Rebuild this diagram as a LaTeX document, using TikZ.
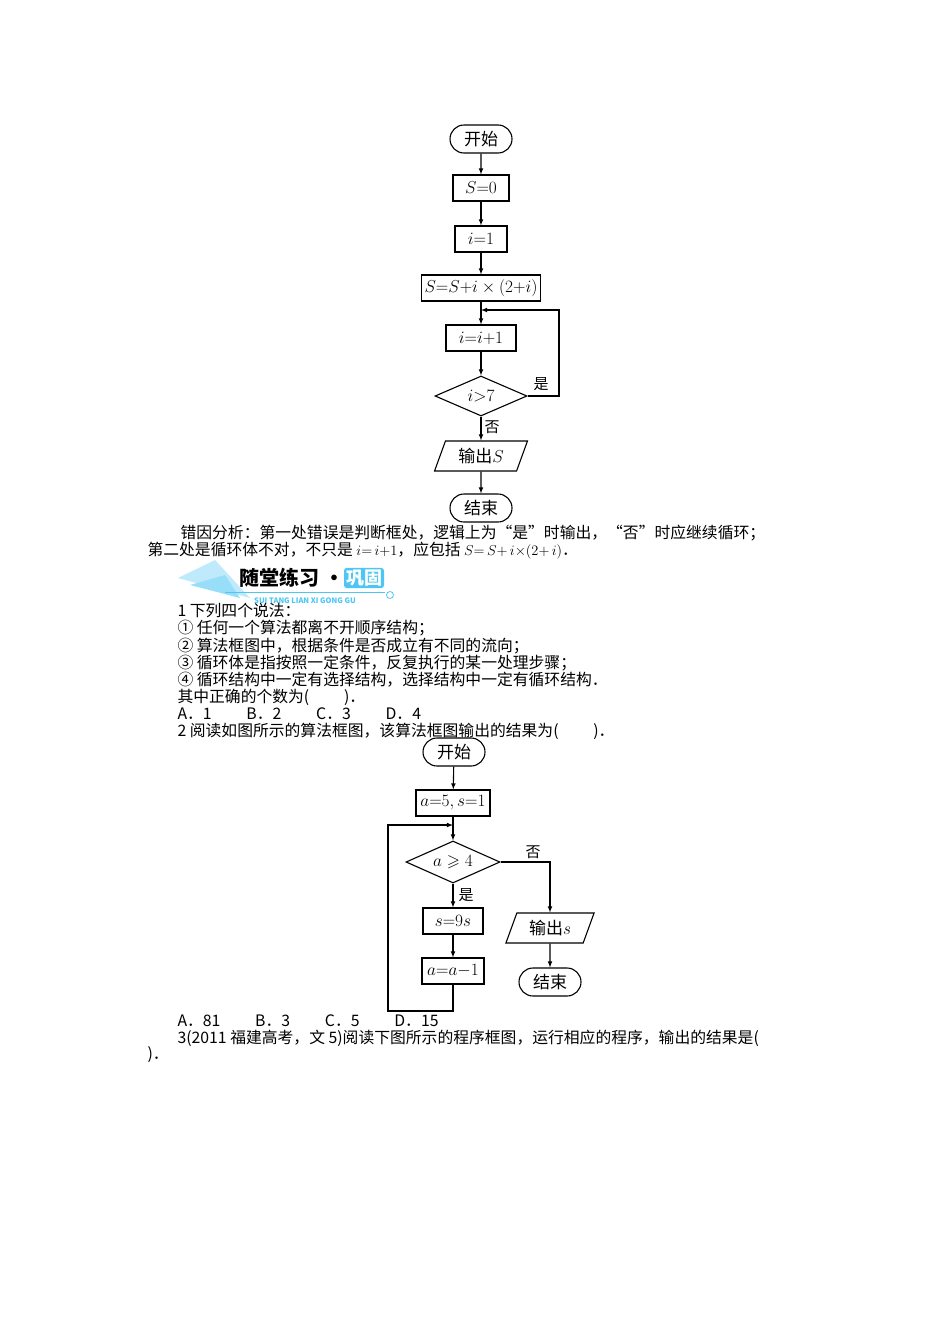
\documentclass[tikz,border=0pt]{standalone}
\usepackage{amssymb}
\usepackage{fontspec}
\setmainfont{Noto Sans CJK SC}
\usetikzlibrary{shapes.geometric,shapes.misc}
\begin{document}
\begin{tikzpicture}[x=1pt,y=-1pt,line width=1.1pt,>=latex,
  fc/.style={font=\fontsize{17}{17}\selectfont},
  term/.style={fc,draw,rounded rectangle,minimum width=62pt,minimum height=28pt,inner sep=0pt},
  proc/.style={fc,draw,rectangle,minimum height=26pt,inner sep=3pt},
  dec/.style={fc,draw,diamond,aspect=2.3,inner sep=1pt,minimum height=40pt},
  io/.style={fc,draw,trapezium,trapezium left angle=70,trapezium right angle=110,minimum height=30pt,inner sep=3pt},
  txt/.style={anchor=west,inner sep=0pt,font=\fontsize{15.8}{15.8}\selectfont},
  lab/.style={inner sep=0pt,font=\fontsize{15}{15}\selectfont}]
\useasboundingbox (0,0) rectangle (950,1344);
% chart 1
\node[term] (a1) at (481,139) {开始};
\node[proc,minimum width=56pt] (a2) at (481,188) {$S{=}0$};
\node[proc,minimum width=52pt] (a3) at (481,239) {$i{=}1$};
\node[proc,minimum width=112pt] (a4) at (481,288) {$S{=}S{+}i\times(2{+}i)$};
\node[proc,minimum width=70pt] (a5) at (481,338) {$i{=}i{+}1$};
\node[dec,minimum width=92pt] (a6) at (481,396) {$i{>}7$};
\node[io,minimum width=70pt] (a7) at (481,456) {输出$S$};
\node[term] (a8) at (481,508) {结束};
\coordinate (l1) at (481,310);
\draw[->] (a1)--(a2); \draw[->] (a2)--(a3); \draw[->] (a3)--(a4);
\draw[->] (a4)--(a5); \draw[->] (a5)--(a6); \draw[->] (a6)--(a7); \draw[->] (a7)--(a8);
\draw[->] (a6.east) -- (559,396) -- (559,310) -- (l1);
\node[lab] (y1) at (541,384) {是};
\node[lab] (n1) at (492,427) {否};
% text
\node[txt] (t1) at (180,533) {错因分析：第一处错误是判断框处，逻辑上为“是”时输出，“否”时应继续循环；};
\node[txt] (t2) at (147,551) {第二处是循环体不对，不只是 $i{=}\,i{+}1$，应包括 $S{=}\,S{+}\,i{\times}(2{+}\,i)$．};
% banner
\fill[cyan!25] (178,578) -- (215,560) -- (250,598) -- cycle;
\fill[cyan!40] (190,585) -- (225,575) -- (240,598) -- cycle;
\node[inner sep=0pt,font=\fontsize{20}{20}\selectfont\bfseries] (bn) at (292,578) {随堂练习 ·};
\node[fill=cyan!70!white,text=white,rounded corners=3pt,inner sep=2pt,font=\fontsize{18}{18}\selectfont\bfseries] (bx) at (364,578) {巩固};
\draw[cyan!70,line width=0.8pt] (225,592) -- (385,592);
\draw[cyan!70,line width=0.8pt] (390,595) circle (3.5);
\node[inner sep=0pt,text=cyan!70,font=\fontsize{7.5}{7.5}\selectfont\bfseries] (bs) at (305,601) {SUI TANG LIAN XI GONG GU};
\node[txt] (t3) at (177,611) {1 下列四个说法：};
\node[txt] (t4) at (177,628) {① 任何一个算法都离不开顺序结构；};
\node[txt] (t5) at (177,646) {② 算法框图中，根据条件是否成立有不同的流向；};
\node[txt] (t6) at (177,663) {③ 循环体是指按照一定条件，反复执行的某一处理步骤；};
\node[txt] (t7) at (177,680) {④ 循环结构中一定有选择结构，选择结构中一定有循环结构．};
\node[txt] (t8) at (177,697) {其中正确的个数为(\hspace{2.2em})．};
\node[txt] (t9) at (177,714) {A．1\hspace{2.2em}B．2\hspace{2.2em}C．3\hspace{2.2em}D．4};
\node[txt] (t10) at (177,731) {2 阅读如图所示的算法框图，该算法框图输出的结果为(\hspace{2.2em})．};
% chart 2
\node[term] (b1) at (454,752) {开始};
\node[proc,minimum width=74pt] (b2) at (453,803) {$a{=}5,s{=}1$};
\node[dec,minimum width=94pt,minimum height=42pt] (b3) at (453,862) {$a\geqslant 4$};
\node[proc,minimum width=60pt] (b4) at (453,921) {$s{=}9s$};
\node[proc,minimum width=62pt] (b5) at (453,971) {$a{=}a{-}1$};
\node[io,minimum width=70pt] (b6) at (550,928) {输出$s$};
\node[term] (b7) at (550,982) {结束};
\coordinate (l2) at (453,825);
\draw[->] (b1)--(b2); \draw[->] (b2)--(b3); \draw[->] (b3)--(b4); \draw[->] (b4)--(b5);
\draw[->] (b5.south) -- (453,1011) -- (388,1011) -- (388,825) -- (l2);
\draw[->] (b3.east) -- (550,862) -- (b6);
\draw[->] (b6)--(b7);
\node[lab] (n2) at (533,852) {否};
\node[lab] (y2) at (466,895) {是};
\node[txt] (t11) at (177,1021) {A．81\hspace{2.2em}B．3\hspace{2.2em}C．5\hspace{2.2em}D．15};
\node[txt] (t12) at (177,1038) {3(2011 福建高考，文 5)阅读下图所示的程序框图，运行相应的程序，输出的结果是(};
\node[txt] (t13) at (147,1055) {)．};
\end{tikzpicture}
\end{document}
